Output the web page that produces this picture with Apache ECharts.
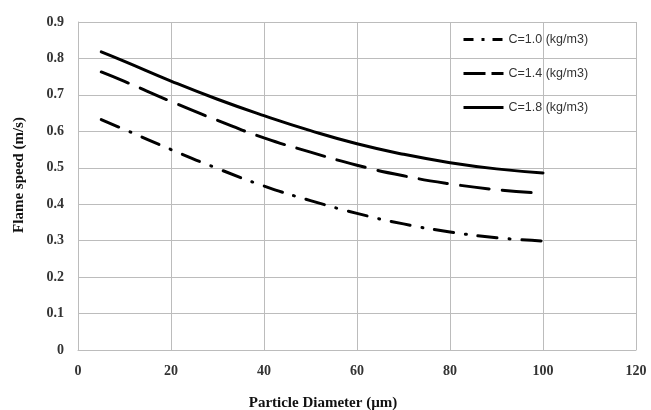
<!DOCTYPE html>
<html>
<head>
<meta charset="utf-8">
<script src="https://cdn.jsdelivr.net/npm/echarts@6/dist/echarts.min.js"></script>
<style>html,body{margin:0;padding:0;background:#fff}#c{width:651px;height:410px}</style>
</head>
<body>
<div id="c"></div>
<script>
const diameters = [5, 10, 20, 30, 40, 50, 60, 70, 80, 90, 100];
const seriesNames = ['C=1.0 (kg/m3)', 'C=1.4 (kg/m3)', 'C=1.8 (kg/m3)'];
const c10 = [0.632, 0.605, 0.550, 0.498, 0.450, 0.410, 0.375, 0.346, 0.324, 0.308, 0.299];
const c14 = [0.763, 0.737, 0.682, 0.630, 0.582, 0.543, 0.507, 0.478, 0.456, 0.440, 0.430];
const c18 = [0.818, 0.792, 0.738, 0.688, 0.643, 0.602, 0.566, 0.537, 0.514, 0.497, 0.486];
const xTicks = [0, 20, 40, 60, 80, 100, 120];
const yTicks = [0, 0.1, 0.2, 0.3, 0.4, 0.5, 0.6, 0.7, 0.8, 0.9];

const pairs = arr => diameters.map((d, i) => [d, arr[i]]);
const chart = echarts.init(document.getElementById('c'), null, {renderer: 'canvas'});
const gridColor = '#bcbcbc';
const labelFont = {fontFamily: 'Liberation Serif', fontWeight: 'bold', fontSize: 14, color: '#333'};
const legendDash = [[10, 8, 3, 8], [22, 6], 'solid'];
function mk(name, data, dash) {
  return {
    name: name, type: 'line', data: pairs(data), smooth: true, showSymbol: false, symbol: 'none',
    lineStyle: {color: '#000', width: 3, type: dash, cap: 'round'},
    itemStyle: {color: '#000'}
  };
}
chart.setOption({
  animation: false,
  grid: {left: 78, right: 15, top: 22, bottom: 60, containLabel: false, outerBoundsMode: 'none'},
  legend: {
    orient: 'vertical', left: 457, top: 28, itemWidth: 40, itemHeight: 14, itemGap: 21,
    itemStyle: {opacity: 0},
    textStyle: {fontFamily: 'Liberation Sans', fontSize: 12.5, color: '#333'},
    data: seriesNames.map((n, i) => ({name: n, lineStyle: {type: legendDash[i], width: 3, cap: 'butt'}}))
  },
  xAxis: {
    type: 'value', min: 0, max: 120, interval: 20,
    name: 'Particle Diameter (\u00b5m)', nameLocation: 'middle', nameGap: 46,
    nameTextStyle: {fontFamily: 'Liberation Serif', fontWeight: 'bold', fontSize: 15, color: '#111', padding: [0, 68, 0, 0]},
    axisLine: {lineStyle: {color: gridColor, width: 1}},
    axisTick: {show: false},
    splitLine: {show: true, lineStyle: {color: gridColor, width: 1}},
    axisLabel: Object.assign({margin: 14, formatter: v => xTicks.includes(v) ? String(v) : ''}, labelFont)
  },
  yAxis: {
    type: 'value', min: 0, max: 0.9, interval: 0.1,
    name: 'Flame speed (m/s)', nameLocation: 'middle', nameGap: 51,
    nameTextStyle: {fontFamily: 'Liberation Serif', fontWeight: 'bold', fontSize: 15, color: '#111', padding: [0, 0, 0, 22]},
    axisLine: {show: true, lineStyle: {color: gridColor, width: 1}},
    axisTick: {show: false},
    splitLine: {show: true, lineStyle: {color: gridColor, width: 1}},
    axisLabel: Object.assign({margin: 14, formatter: v => {
      const t = yTicks.find(y => Math.abs(y - v) < 1e-9);
      return t === undefined ? '' : (t === 0 ? '0' : t.toFixed(1));
    }}, labelFont)
  },
  series: [
    mk(seriesNames[0], c10, [19, 12, 1, 12]),
    mk(seriesNames[1], c14, [29, 13]),
    mk(seriesNames[2], c18, 'solid')
  ]
});
</script>
</body>
</html>
